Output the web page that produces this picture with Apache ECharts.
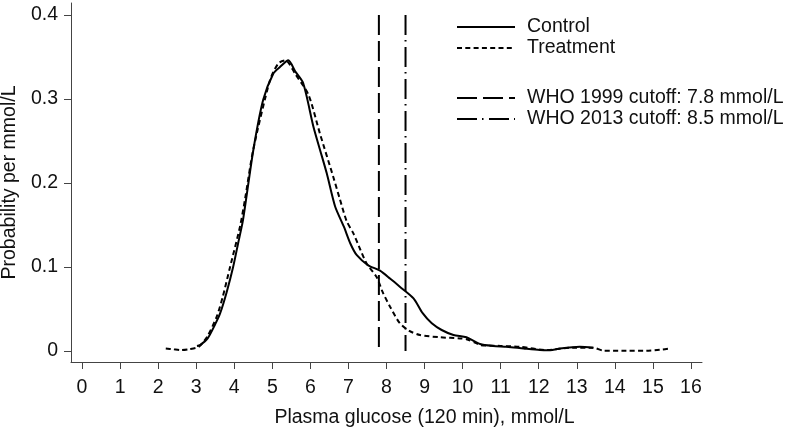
<!DOCTYPE html>
<html>
<head>
<meta charset="utf-8">
<script src="https://cdn.jsdelivr.net/npm/echarts@6/dist/echarts.min.js"></script>
<style>html,body{margin:0;padding:0;background:#fff}#c{width:791px;height:433px}</style>
</head>
<body>
<div id="c"></div>
<script>
var xTicks = [0,1,2,3,4,5,6,7,8,9,10,11,12,13,14,15,16];
var yTicks = [0,0.1,0.2,0.3,0.4];

var controlX = [3.02,3.1,3.3,3.5,3.63,3.8,3.97,4.1,4.23,4.5,4.76,5.03,5.2,5.42,5.6,5.81,6.08,6.25,6.43,6.65,6.88,7.05,7.22,7.52,7.83,8.1,8.35,8.71,8.95,9.19,9.45,9.76,10.1,10.46,10.8,11.16,11.6,12.03,12.3,12.56,13.08,13.43];
var controlY = [0.006,0.007,0.015,0.032,0.045,0.07,0.1,0.128,0.156,0.239,0.299,0.3306,0.338,0.346,0.333,0.319,0.267,0.24,0.2115,0.172,0.148,0.128,0.114,0.102,0.0956,0.086,0.0766,0.0627,0.045,0.033,0.025,0.019,0.0163,0.0083,0.006,0.005,0.003,0.0012,0.001,0.003,0.005,0.004];

var treatX = [2.2,2.4,2.6,2.8,3.07,3.3,3.54,3.7,3.89,4.15,4.28,4.5,4.94,5.16,5.35,5.6,5.95,6.25,6.6,6.78,6.95,7.13,7.3,7.48,7.74,7.9,8.09,8.35,8.6,8.88,9.41,9.93,10.1,10.37,10.46,11.0,11.5,12.2,12.9,13.43,13.7,14.3,14.83,15.2,15.45];
var treatY = [0.003,0.002,0.001,0.002,0.005,0.018,0.041,0.065,0.1,0.148,0.18,0.24,0.3226,0.3425,0.346,0.33,0.305,0.259,0.2075,0.18,0.155,0.14,0.122,0.104,0.088,0.07,0.053,0.033,0.024,0.019,0.0163,0.015,0.014,0.009,0.007,0.006,0.005,0.0012,0.004,0.004,0.0004,0.0003,0.0004,0.0015,0.003];

var who1999 = 7.8;
var who2013 = 8.5;
var cutoffTop = 0.4;

var seriesNames = ['Control','Treatment','WHO 1999 cutoff: 7.8 mmol/L','WHO 2013 cutoff: 8.5 mmol/L'];

function pairs(xs, ys){ return xs.map(function(x,i){ return [x, ys[i]]; }); }

var font = 'Liberation Sans, Arial, sans-serif';
var fs = 19.5;
var chart = echarts.init(document.getElementById('c'), null, {renderer:'canvas'});
chart.setOption({
  animation: false,
  backgroundColor: '#fff',
  textStyle: { fontFamily: font },
  grid: { left: 71, right: 89, top: 3, bottom: 71, containLabel: false, outerBoundsMode: 'none' },
  xAxis: {
    type: 'value', min: -0.29, max: 16.29,
    name: 'Plasma glucose (120 min), mmol/L', nameLocation: 'middle', nameGap: 46,
    nameTextStyle: { fontSize: fs, color: '#111', fontFamily: font, padding: [0,0,0,76] },
    axisLine: { show: true, onZero: false, lineStyle: { color: '#444', width: 1 } },
    axisTick: { show: true, length: 7, customValues: xTicks, lineStyle: { color: '#444' } },
    axisLabel: { customValues: xTicks, fontSize: fs, color: '#111', margin: 16, fontFamily: font },
    splitLine: { show: false }
  },
  yAxis: {
    type: 'value', min: -0.0131, max: 0.4143,
    name: 'Probability per mmol/L', nameLocation: 'middle', nameGap: 50, nameRotate: 90,
    nameTextStyle: { fontSize: fs, color: '#111', fontFamily: font },
    axisLine: { show: true, onZero: false, lineStyle: { color: '#444', width: 1 } },
    axisTick: { show: true, length: 7, customValues: yTicks, lineStyle: { color: '#444' } },
    axisLabel: { customValues: yTicks, fontSize: fs, color: '#111', margin: 13, fontFamily: font,
      formatter: function(v){ return v === 0 ? '0' : v.toFixed(1); } },
    splitLine: { show: false }
  },
  legend: [
    { data: [seriesNames[0], seriesNames[1]], orient: 'vertical', left: 456, top: 17, padding: 0,
      itemWidth: 58, itemHeight: 20, itemGap: 1, itemStyle: { opacity: 0 },
      textStyle: { fontSize: fs, color: '#111', fontFamily: font, padding: [0,0,0,7] } },
    { data: [seriesNames[2], seriesNames[3]], orient: 'vertical', left: 456, top: 88, padding: 0,
      itemWidth: 58, itemHeight: 20, itemGap: 1, itemStyle: { opacity: 0 },
      textStyle: { fontSize: fs, color: '#111', fontFamily: font, padding: [0,0,0,7] } }
  ],
  series: [
    { name: seriesNames[0], type: 'line', data: pairs(controlX, controlY), showSymbol: false, symbol: 'none',
      smooth: 0.25, color: '#000', lineStyle: { color: '#000', width: 2, type: 'solid' } },
    { name: seriesNames[1], type: 'line', data: pairs(treatX, treatY), showSymbol: false, symbol: 'none',
      smooth: 0.25, color: '#000', lineStyle: { color: '#000', width: 2, type: [5, 3.3] } },
    { name: seriesNames[2], type: 'line', data: [[who1999, cutoffTop],[who1999, 0]], showSymbol: false, symbol: 'none',
      color: '#000', lineStyle: { color: '#000', width: 2, type: [20, 6] } },
    { name: seriesNames[3], type: 'line', data: [[who2013, cutoffTop],[who2013, 0]], showSymbol: false, symbol: 'none',
      color: '#000', lineStyle: { color: '#000', width: 2, type: [20, 5, 1.5, 5.5] } }
  ]
});
</script>
</body>
</html>
